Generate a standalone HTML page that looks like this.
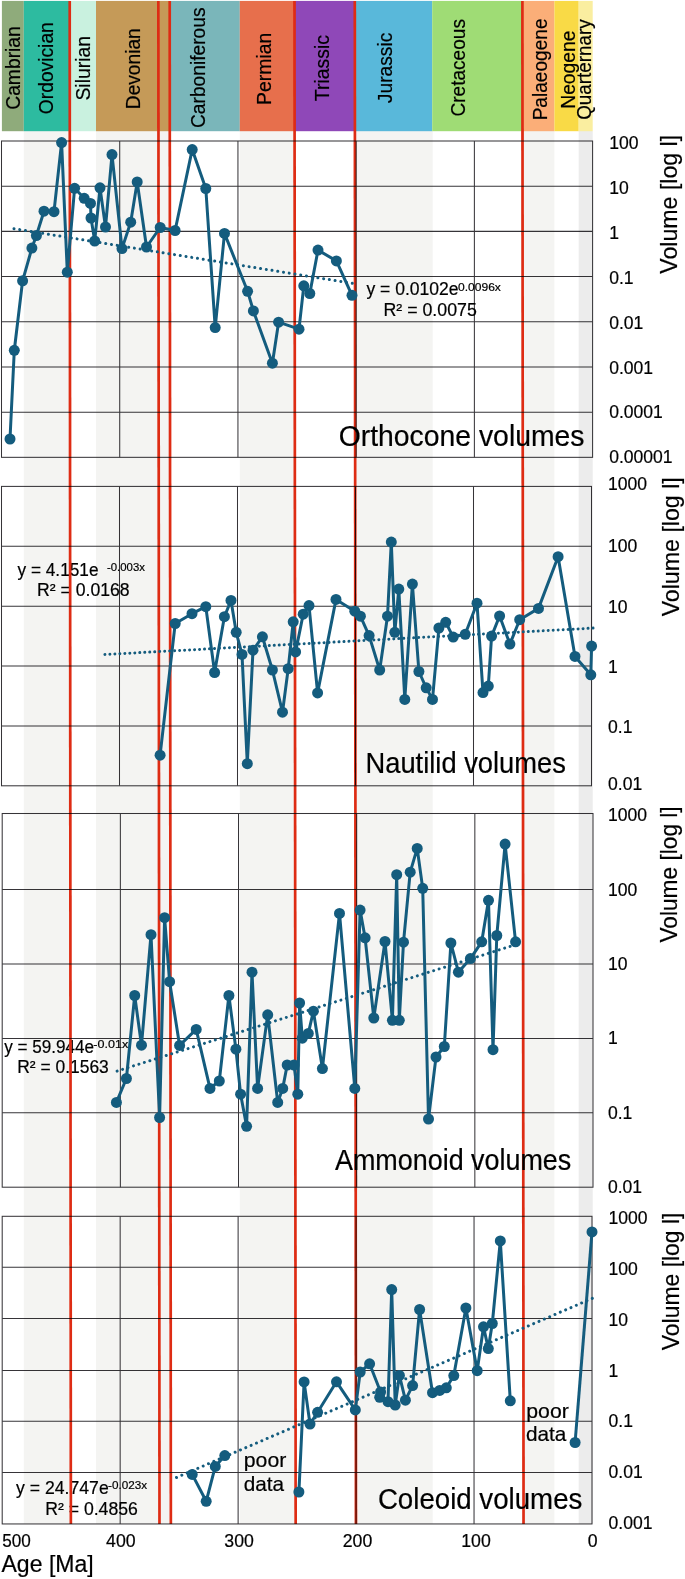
<!DOCTYPE html>
<html lang="en"><head><meta charset="utf-8"><title>Cephalopod volumes through time</title>
<style>html,body{margin:0;padding:0;background:#fff}svg{display:block}text{font-family:"Liberation Sans", Arial, Helvetica, sans-serif;fill:#000;stroke:#000;stroke-width:0.2px}</style></head><body>
<svg width="685" height="1579" viewBox="0 0 685 1579">
<rect width="685" height="1579" fill="#fff"/>
<g>
<rect x="23.8" y="131" width="45.9" height="1392.7" fill="#f4f4f2"/>
<rect x="96.0" y="131" width="73.7" height="1392.7" fill="#f4f4f2"/>
<rect x="239.8" y="131" width="54.7" height="1392.7" fill="#f4f4f2"/>
<rect x="354.8" y="131" width="77.9" height="1392.7" fill="#f4f4f2"/>
<rect x="522.4" y="131" width="32.0" height="1392.7" fill="#f4f4f2"/>
<rect x="578.7" y="131" width="14.0" height="1392.7" fill="#ececec"/>
</g>
<g>
<rect x="1.9" y="0.9" width="21.9" height="130.3" fill="#8fab7b"/>
<rect x="23.8" y="0.9" width="45.9" height="130.3" fill="#2dbba0"/>
<rect x="69.7" y="0.9" width="26.3" height="130.3" fill="#c9f1df"/>
<rect x="96.0" y="0.9" width="73.7" height="130.3" fill="#c59a58"/>
<rect x="169.7" y="0.9" width="70.1" height="130.3" fill="#7ab6ba"/>
<rect x="239.8" y="0.9" width="54.7" height="130.3" fill="#e76f4c"/>
<rect x="294.5" y="0.9" width="60.3" height="130.3" fill="#8f48b8"/>
<rect x="354.8" y="0.9" width="77.4" height="130.3" fill="#59b8da"/>
<rect x="432.2" y="0.9" width="90.2" height="130.3" fill="#9fdc75"/>
<rect x="522.4" y="0.9" width="32.0" height="130.3" fill="#fbae78"/>
<rect x="554.4" y="0.9" width="24.3" height="130.3" fill="#f9da46"/>
<rect x="578.7" y="0.9" width="14.0" height="130.3" fill="#faeea0"/>
</g>
<g>
<text x="366.40" y="295.20" font-size="17.6" textLength="92.20" lengthAdjust="spacingAndGlyphs">y = 0.0102e</text>
<text x="457.98" y="290.60" font-size="11.5" textLength="42.92" lengthAdjust="spacingAndGlyphs">0.0096x</text>
<text x="383.49" y="316.30" font-size="17.6" textLength="93.31" lengthAdjust="spacingAndGlyphs">R² = 0.0075</text>
<text x="17.50" y="575.70" font-size="17.6" textLength="81.00" lengthAdjust="spacingAndGlyphs">y = 4.151e</text>
<text x="107.01" y="571.00" font-size="11.5" textLength="37.90" lengthAdjust="spacingAndGlyphs">-0.003x</text>
<text x="37.00" y="596.30" font-size="17.6" textLength="92.59" lengthAdjust="spacingAndGlyphs">R² = 0.0168</text>
<text x="4.20" y="1052.70" font-size="17.6" textLength="89.88" lengthAdjust="spacingAndGlyphs">y = 59.944e</text>
<text x="93.35" y="1048.00" font-size="11.5" textLength="34.88" lengthAdjust="spacingAndGlyphs">-0.01x</text>
<text x="17.21" y="1073.30" font-size="17.6" textLength="91.62" lengthAdjust="spacingAndGlyphs">R² = 0.1563</text>
<text x="16.10" y="1493.50" font-size="17.6" textLength="92.60" lengthAdjust="spacingAndGlyphs">y = 24.747e</text>
<text x="107.99" y="1489.00" font-size="11.5" textLength="39.02" lengthAdjust="spacingAndGlyphs">-0.023x</text>
<text x="45.20" y="1514.50" font-size="17.6" textLength="92.69" lengthAdjust="spacingAndGlyphs">R² = 0.4856</text>
</g>
<g stroke="#de2c14" stroke-width="2.7">
<line x1="69.70" y1="1" x2="70.85" y2="1523.9"/>
<line x1="158.35" y1="1" x2="159.50" y2="1523.9"/>
<line x1="169.70" y1="1" x2="170.85" y2="1523.9"/>
<line x1="294.50" y1="1" x2="295.65" y2="1523.9"/>
<line x1="354.80" y1="1" x2="355.95" y2="1523.9"/>
<line x1="522.40" y1="1" x2="523.55" y2="1523.9"/>
</g>
<g stroke="#363438" stroke-width="1.03" fill="none" style="mix-blend-mode:multiply">
<rect x="1.50" y="141.00" width="591.10" height="316.33"/>
<line x1="1.50" y1="186.19" x2="592.60" y2="186.19"/>
<line x1="1.50" y1="231.38" x2="592.60" y2="231.38"/>
<line x1="1.50" y1="276.57" x2="592.60" y2="276.57"/>
<line x1="1.50" y1="321.76" x2="592.60" y2="321.76"/>
<line x1="1.50" y1="366.95" x2="592.60" y2="366.95"/>
<line x1="1.50" y1="412.14" x2="592.60" y2="412.14"/>
<line x1="119.72" y1="141.00" x2="119.72" y2="457.33"/>
<line x1="237.94" y1="141.00" x2="237.94" y2="457.33"/>
<line x1="356.16" y1="141.00" x2="356.16" y2="457.33"/>
<line x1="474.38" y1="141.00" x2="474.38" y2="457.33"/>
<rect x="1.50" y="486.40" width="590.00" height="299.40"/>
<line x1="1.50" y1="546.28" x2="591.50" y2="546.28"/>
<line x1="1.50" y1="606.16" x2="591.50" y2="606.16"/>
<line x1="1.50" y1="666.04" x2="591.50" y2="666.04"/>
<line x1="1.50" y1="725.92" x2="591.50" y2="725.92"/>
<line x1="119.50" y1="486.40" x2="119.50" y2="785.80"/>
<line x1="237.50" y1="486.40" x2="237.50" y2="785.80"/>
<line x1="355.50" y1="486.40" x2="355.50" y2="785.80"/>
<line x1="473.50" y1="486.40" x2="473.50" y2="785.80"/>
<rect x="2.20" y="813.50" width="590.80" height="373.70"/>
<line x1="2.20" y1="889.40" x2="593.00" y2="889.40"/>
<line x1="2.20" y1="964.10" x2="593.00" y2="964.10"/>
<line x1="2.20" y1="1038.50" x2="593.00" y2="1038.50"/>
<line x1="2.20" y1="1112.80" x2="593.00" y2="1112.80"/>
<line x1="120.36" y1="813.50" x2="120.36" y2="1187.20"/>
<line x1="238.52" y1="813.50" x2="238.52" y2="1187.20"/>
<line x1="356.68" y1="813.50" x2="356.68" y2="1187.20"/>
<line x1="474.84" y1="813.50" x2="474.84" y2="1187.20"/>
<rect x="2.20" y="1216.30" width="589.80" height="307.65"/>
<line x1="2.20" y1="1267.30" x2="592.00" y2="1267.30"/>
<line x1="2.20" y1="1318.50" x2="592.00" y2="1318.50"/>
<line x1="2.20" y1="1370.45" x2="592.00" y2="1370.45"/>
<line x1="2.20" y1="1421.20" x2="592.00" y2="1421.20"/>
<line x1="2.20" y1="1472.40" x2="592.00" y2="1472.40"/>
<line x1="120.16" y1="1216.30" x2="120.16" y2="1523.95"/>
<line x1="238.12" y1="1216.30" x2="238.12" y2="1523.95"/>
<line x1="356.08" y1="1216.30" x2="356.08" y2="1523.95"/>
<line x1="474.04" y1="1216.30" x2="474.04" y2="1523.95"/>
</g>
<g stroke="#145c7e" stroke-width="3" stroke-linecap="round" fill="none">
<line x1="14.00" y1="228.70" x2="352.50" y2="283.33" stroke-dasharray="0.01 5.7981"/>
<line x1="104.90" y1="654.50" x2="593.20" y2="628.09" stroke-dasharray="0.01 4.9779"/>
<line x1="117.10" y1="1071.10" x2="515.75" y2="944.64" stroke-dasharray="0.01 5.7164"/>
<line x1="176.50" y1="1477.50" x2="592.48" y2="1298.32" stroke-dasharray="0.01 5.7943"/>
</g>
<g>
<polyline fill="none" stroke="#145c7e" stroke-width="3" stroke-linejoin="round" points="10.0,439.0 14.3,350.3 22.6,280.8 31.9,248.1 36.4,235.5 44.0,211.2 54.0,211.7 61.6,142.6 67.3,272.2 74.6,188.3 84.2,198.3 90.5,203.4 91.0,218.0 94.7,241.0 100.0,187.8 105.5,227.0 112.0,154.6 122.0,248.6 130.7,222.2 137.2,182.0 146.5,247.0 160.2,227.5 175.1,230.5 192.2,149.6 205.8,188.5 215.2,327.6 224.5,233.4 247.6,291.3 253.4,310.9 272.4,363.2 278.6,322.2 299.0,329.2 303.8,285.8 309.8,293.5 318.0,250.1 336.4,260.9 352.0,295.3"/>
<circle cx="10.0" cy="439.0" r="5.5" fill="#145c7e"/>
<circle cx="14.3" cy="350.3" r="5.5" fill="#145c7e"/>
<circle cx="22.6" cy="280.8" r="5.5" fill="#145c7e"/>
<circle cx="31.9" cy="248.1" r="5.5" fill="#145c7e"/>
<circle cx="36.4" cy="235.5" r="5.5" fill="#145c7e"/>
<circle cx="44.0" cy="211.2" r="5.5" fill="#145c7e"/>
<circle cx="54.0" cy="211.7" r="5.5" fill="#145c7e"/>
<circle cx="61.6" cy="142.6" r="5.5" fill="#145c7e"/>
<circle cx="67.3" cy="272.2" r="5.5" fill="#145c7e"/>
<circle cx="74.6" cy="188.3" r="5.5" fill="#145c7e"/>
<circle cx="84.2" cy="198.3" r="5.5" fill="#145c7e"/>
<circle cx="90.5" cy="203.4" r="5.5" fill="#145c7e"/>
<circle cx="91.0" cy="218.0" r="5.5" fill="#145c7e"/>
<circle cx="94.7" cy="241.0" r="5.5" fill="#145c7e"/>
<circle cx="100.0" cy="187.8" r="5.5" fill="#145c7e"/>
<circle cx="105.5" cy="227.0" r="5.5" fill="#145c7e"/>
<circle cx="112.0" cy="154.6" r="5.5" fill="#145c7e"/>
<circle cx="122.0" cy="248.6" r="5.5" fill="#145c7e"/>
<circle cx="130.7" cy="222.2" r="5.5" fill="#145c7e"/>
<circle cx="137.2" cy="182.0" r="5.5" fill="#145c7e"/>
<circle cx="146.5" cy="247.0" r="5.5" fill="#145c7e"/>
<circle cx="160.2" cy="227.5" r="5.5" fill="#145c7e"/>
<circle cx="175.1" cy="230.5" r="5.5" fill="#145c7e"/>
<circle cx="192.2" cy="149.6" r="5.5" fill="#145c7e"/>
<circle cx="205.8" cy="188.5" r="5.5" fill="#145c7e"/>
<circle cx="215.2" cy="327.6" r="5.5" fill="#145c7e"/>
<circle cx="224.5" cy="233.4" r="5.5" fill="#145c7e"/>
<circle cx="247.6" cy="291.3" r="5.5" fill="#145c7e"/>
<circle cx="253.4" cy="310.9" r="5.5" fill="#145c7e"/>
<circle cx="272.4" cy="363.2" r="5.5" fill="#145c7e"/>
<circle cx="278.6" cy="322.2" r="5.5" fill="#145c7e"/>
<circle cx="299.0" cy="329.2" r="5.5" fill="#145c7e"/>
<circle cx="303.8" cy="285.8" r="5.5" fill="#145c7e"/>
<circle cx="309.8" cy="293.5" r="5.5" fill="#145c7e"/>
<circle cx="318.0" cy="250.1" r="5.5" fill="#145c7e"/>
<circle cx="336.4" cy="260.9" r="5.5" fill="#145c7e"/>
<circle cx="352.0" cy="295.3" r="5.5" fill="#145c7e"/>
</g>
<g>
<polyline fill="none" stroke="#145c7e" stroke-width="3" stroke-linejoin="round" points="160.1,755.2 175.2,623.5 192.0,613.7 205.8,606.7 214.6,672.5 224.4,616.7 231.0,600.4 236.2,632.3 242.0,654.4 247.3,763.7 253.0,650.2 262.4,636.8 272.4,670.0 282.5,712.2 288.2,668.7 293.2,621.8 295.6,651.9 303.2,614.2 309.0,605.6 317.6,692.9 336.0,599.4 354.8,611.2 360.4,616.2 369.1,635.6 379.7,670.0 387.5,616.2 391.3,542.1 394.8,632.3 398.8,589.1 404.8,699.4 412.4,584.1 418.9,671.5 426.2,687.8 432.5,699.4 438.9,628.0 445.7,622.3 453.2,637.1 465.2,634.3 477.0,603.2 483.0,692.6 488.3,686.1 491.6,636.1 499.6,616.0 509.9,644.1 519.7,619.7 538.5,608.4 558.1,556.7 575.0,656.4 590.8,674.8 591.6,646.1"/>
<circle cx="160.1" cy="755.2" r="5.5" fill="#145c7e"/>
<circle cx="175.2" cy="623.5" r="5.5" fill="#145c7e"/>
<circle cx="192.0" cy="613.7" r="5.5" fill="#145c7e"/>
<circle cx="205.8" cy="606.7" r="5.5" fill="#145c7e"/>
<circle cx="214.6" cy="672.5" r="5.5" fill="#145c7e"/>
<circle cx="224.4" cy="616.7" r="5.5" fill="#145c7e"/>
<circle cx="231.0" cy="600.4" r="5.5" fill="#145c7e"/>
<circle cx="236.2" cy="632.3" r="5.5" fill="#145c7e"/>
<circle cx="242.0" cy="654.4" r="5.5" fill="#145c7e"/>
<circle cx="247.3" cy="763.7" r="5.5" fill="#145c7e"/>
<circle cx="253.0" cy="650.2" r="5.5" fill="#145c7e"/>
<circle cx="262.4" cy="636.8" r="5.5" fill="#145c7e"/>
<circle cx="272.4" cy="670.0" r="5.5" fill="#145c7e"/>
<circle cx="282.5" cy="712.2" r="5.5" fill="#145c7e"/>
<circle cx="288.2" cy="668.7" r="5.5" fill="#145c7e"/>
<circle cx="293.2" cy="621.8" r="5.5" fill="#145c7e"/>
<circle cx="295.6" cy="651.9" r="5.5" fill="#145c7e"/>
<circle cx="303.2" cy="614.2" r="5.5" fill="#145c7e"/>
<circle cx="309.0" cy="605.6" r="5.5" fill="#145c7e"/>
<circle cx="317.6" cy="692.9" r="5.5" fill="#145c7e"/>
<circle cx="336.0" cy="599.4" r="5.5" fill="#145c7e"/>
<circle cx="354.8" cy="611.2" r="5.5" fill="#145c7e"/>
<circle cx="360.4" cy="616.2" r="5.5" fill="#145c7e"/>
<circle cx="369.1" cy="635.6" r="5.5" fill="#145c7e"/>
<circle cx="379.7" cy="670.0" r="5.5" fill="#145c7e"/>
<circle cx="387.5" cy="616.2" r="5.5" fill="#145c7e"/>
<circle cx="391.3" cy="542.1" r="5.5" fill="#145c7e"/>
<circle cx="394.8" cy="632.3" r="5.5" fill="#145c7e"/>
<circle cx="398.8" cy="589.1" r="5.5" fill="#145c7e"/>
<circle cx="404.8" cy="699.4" r="5.5" fill="#145c7e"/>
<circle cx="412.4" cy="584.1" r="5.5" fill="#145c7e"/>
<circle cx="418.9" cy="671.5" r="5.5" fill="#145c7e"/>
<circle cx="426.2" cy="687.8" r="5.5" fill="#145c7e"/>
<circle cx="432.5" cy="699.4" r="5.5" fill="#145c7e"/>
<circle cx="438.9" cy="628.0" r="5.5" fill="#145c7e"/>
<circle cx="445.7" cy="622.3" r="5.5" fill="#145c7e"/>
<circle cx="453.2" cy="637.1" r="5.5" fill="#145c7e"/>
<circle cx="465.2" cy="634.3" r="5.5" fill="#145c7e"/>
<circle cx="477.0" cy="603.2" r="5.5" fill="#145c7e"/>
<circle cx="483.0" cy="692.6" r="5.5" fill="#145c7e"/>
<circle cx="488.3" cy="686.1" r="5.5" fill="#145c7e"/>
<circle cx="491.6" cy="636.1" r="5.5" fill="#145c7e"/>
<circle cx="499.6" cy="616.0" r="5.5" fill="#145c7e"/>
<circle cx="509.9" cy="644.1" r="5.5" fill="#145c7e"/>
<circle cx="519.7" cy="619.7" r="5.5" fill="#145c7e"/>
<circle cx="538.5" cy="608.4" r="5.5" fill="#145c7e"/>
<circle cx="558.1" cy="556.7" r="5.5" fill="#145c7e"/>
<circle cx="575.0" cy="656.4" r="5.5" fill="#145c7e"/>
<circle cx="590.8" cy="674.8" r="5.5" fill="#145c7e"/>
<circle cx="591.6" cy="646.1" r="5.5" fill="#145c7e"/>
</g>
<g>
<polyline fill="none" stroke="#145c7e" stroke-width="3" stroke-linejoin="round" points="116.4,1102.4 126.4,1078.5 134.7,995.5 141.5,1045.2 151.0,934.7 159.6,1117.5 164.6,917.7 169.6,981.7 179.6,1045.4 196.2,1029.4 210.0,1088.4 219.3,1081.0 228.9,995.5 235.9,1049.2 240.6,1094.2 246.6,1126.3 252.0,972.2 257.6,1088.4 267.7,1014.8 277.7,1102.4 282.7,1088.4 287.2,1065.0 294.0,1065.0 297.8,1094.2 299.6,1003.0 302.3,1038.2 308.3,1033.4 313.4,1011.2 322.4,1068.6 339.5,913.4 354.8,1088.4 360.1,910.1 365.1,937.8 373.8,1018.0 385.0,941.5 392.4,1020.3 396.7,874.7 399.3,1020.3 403.5,942.2 410.2,872.2 417.2,848.4 422.7,888.3 428.5,1119.0 436.0,1057.0 444.3,1046.5 450.9,943.0 458.4,972.2 470.4,958.6 481.7,941.8 488.5,900.3 493.0,1049.7 496.8,935.5 505.1,844.1 515.6,941.8"/>
<circle cx="116.4" cy="1102.4" r="5.5" fill="#145c7e"/>
<circle cx="126.4" cy="1078.5" r="5.5" fill="#145c7e"/>
<circle cx="134.7" cy="995.5" r="5.5" fill="#145c7e"/>
<circle cx="141.5" cy="1045.2" r="5.5" fill="#145c7e"/>
<circle cx="151.0" cy="934.7" r="5.5" fill="#145c7e"/>
<circle cx="159.6" cy="1117.5" r="5.5" fill="#145c7e"/>
<circle cx="164.6" cy="917.7" r="5.5" fill="#145c7e"/>
<circle cx="169.6" cy="981.7" r="5.5" fill="#145c7e"/>
<circle cx="179.6" cy="1045.4" r="5.5" fill="#145c7e"/>
<circle cx="196.2" cy="1029.4" r="5.5" fill="#145c7e"/>
<circle cx="210.0" cy="1088.4" r="5.5" fill="#145c7e"/>
<circle cx="219.3" cy="1081.0" r="5.5" fill="#145c7e"/>
<circle cx="228.9" cy="995.5" r="5.5" fill="#145c7e"/>
<circle cx="235.9" cy="1049.2" r="5.5" fill="#145c7e"/>
<circle cx="240.6" cy="1094.2" r="5.5" fill="#145c7e"/>
<circle cx="246.6" cy="1126.3" r="5.5" fill="#145c7e"/>
<circle cx="252.0" cy="972.2" r="5.5" fill="#145c7e"/>
<circle cx="257.6" cy="1088.4" r="5.5" fill="#145c7e"/>
<circle cx="267.7" cy="1014.8" r="5.5" fill="#145c7e"/>
<circle cx="277.7" cy="1102.4" r="5.5" fill="#145c7e"/>
<circle cx="282.7" cy="1088.4" r="5.5" fill="#145c7e"/>
<circle cx="287.2" cy="1065.0" r="5.5" fill="#145c7e"/>
<circle cx="294.0" cy="1065.0" r="5.5" fill="#145c7e"/>
<circle cx="297.8" cy="1094.2" r="5.5" fill="#145c7e"/>
<circle cx="299.6" cy="1003.0" r="5.5" fill="#145c7e"/>
<circle cx="302.3" cy="1038.2" r="5.5" fill="#145c7e"/>
<circle cx="308.3" cy="1033.4" r="5.5" fill="#145c7e"/>
<circle cx="313.4" cy="1011.2" r="5.5" fill="#145c7e"/>
<circle cx="322.4" cy="1068.6" r="5.5" fill="#145c7e"/>
<circle cx="339.5" cy="913.4" r="5.5" fill="#145c7e"/>
<circle cx="354.8" cy="1088.4" r="5.5" fill="#145c7e"/>
<circle cx="360.1" cy="910.1" r="5.5" fill="#145c7e"/>
<circle cx="365.1" cy="937.8" r="5.5" fill="#145c7e"/>
<circle cx="373.8" cy="1018.0" r="5.5" fill="#145c7e"/>
<circle cx="385.0" cy="941.5" r="5.5" fill="#145c7e"/>
<circle cx="392.4" cy="1020.3" r="5.5" fill="#145c7e"/>
<circle cx="396.7" cy="874.7" r="5.5" fill="#145c7e"/>
<circle cx="399.3" cy="1020.3" r="5.5" fill="#145c7e"/>
<circle cx="403.5" cy="942.2" r="5.5" fill="#145c7e"/>
<circle cx="410.2" cy="872.2" r="5.5" fill="#145c7e"/>
<circle cx="417.2" cy="848.4" r="5.5" fill="#145c7e"/>
<circle cx="422.7" cy="888.3" r="5.5" fill="#145c7e"/>
<circle cx="428.5" cy="1119.0" r="5.5" fill="#145c7e"/>
<circle cx="436.0" cy="1057.0" r="5.5" fill="#145c7e"/>
<circle cx="444.3" cy="1046.5" r="5.5" fill="#145c7e"/>
<circle cx="450.9" cy="943.0" r="5.5" fill="#145c7e"/>
<circle cx="458.4" cy="972.2" r="5.5" fill="#145c7e"/>
<circle cx="470.4" cy="958.6" r="5.5" fill="#145c7e"/>
<circle cx="481.7" cy="941.8" r="5.5" fill="#145c7e"/>
<circle cx="488.5" cy="900.3" r="5.5" fill="#145c7e"/>
<circle cx="493.0" cy="1049.7" r="5.5" fill="#145c7e"/>
<circle cx="496.8" cy="935.5" r="5.5" fill="#145c7e"/>
<circle cx="505.1" cy="844.1" r="5.5" fill="#145c7e"/>
<circle cx="515.6" cy="941.8" r="5.5" fill="#145c7e"/>
</g>
<g>
<polyline fill="none" stroke="#145c7e" stroke-width="3" stroke-linejoin="round" points="192.2,1474.4 206.2,1501.3 215.3,1466.4 224.8,1455.6"/>
<circle cx="192.2" cy="1474.4" r="5.5" fill="#145c7e"/>
<circle cx="206.2" cy="1501.3" r="5.5" fill="#145c7e"/>
<circle cx="215.3" cy="1466.4" r="5.5" fill="#145c7e"/>
<circle cx="224.8" cy="1455.6" r="5.5" fill="#145c7e"/>
</g>
<g>
<polyline fill="none" stroke="#145c7e" stroke-width="3" stroke-linejoin="round" points="298.9,1492.0 304.1,1381.9 310.0,1424.0 317.6,1412.3 336.5,1381.8 355.3,1409.9 360.2,1372.0 369.6,1363.8 380.6,1392.0 379.7,1397.3 388.0,1401.7 391.7,1289.6 395.2,1405.0 399.4,1375.4 405.4,1400.2 412.6,1385.6 419.6,1309.5 432.5,1392.7 439.7,1390.4 446.3,1387.8 453.8,1375.6 465.9,1308.0 477.2,1370.7 483.5,1326.8 488.3,1348.6 492.3,1323.5 500.3,1240.9 510.3,1400.8"/>
<circle cx="298.9" cy="1492.0" r="5.5" fill="#145c7e"/>
<circle cx="304.1" cy="1381.9" r="5.5" fill="#145c7e"/>
<circle cx="310.0" cy="1424.0" r="5.5" fill="#145c7e"/>
<circle cx="317.6" cy="1412.3" r="5.5" fill="#145c7e"/>
<circle cx="336.5" cy="1381.8" r="5.5" fill="#145c7e"/>
<circle cx="355.3" cy="1409.9" r="5.5" fill="#145c7e"/>
<circle cx="360.2" cy="1372.0" r="5.5" fill="#145c7e"/>
<circle cx="369.6" cy="1363.8" r="5.5" fill="#145c7e"/>
<circle cx="380.6" cy="1392.0" r="5.5" fill="#145c7e"/>
<circle cx="379.7" cy="1397.3" r="5.5" fill="#145c7e"/>
<circle cx="388.0" cy="1401.7" r="5.5" fill="#145c7e"/>
<circle cx="391.7" cy="1289.6" r="5.5" fill="#145c7e"/>
<circle cx="395.2" cy="1405.0" r="5.5" fill="#145c7e"/>
<circle cx="399.4" cy="1375.4" r="5.5" fill="#145c7e"/>
<circle cx="405.4" cy="1400.2" r="5.5" fill="#145c7e"/>
<circle cx="412.6" cy="1385.6" r="5.5" fill="#145c7e"/>
<circle cx="419.6" cy="1309.5" r="5.5" fill="#145c7e"/>
<circle cx="432.5" cy="1392.7" r="5.5" fill="#145c7e"/>
<circle cx="439.7" cy="1390.4" r="5.5" fill="#145c7e"/>
<circle cx="446.3" cy="1387.8" r="5.5" fill="#145c7e"/>
<circle cx="453.8" cy="1375.6" r="5.5" fill="#145c7e"/>
<circle cx="465.9" cy="1308.0" r="5.5" fill="#145c7e"/>
<circle cx="477.2" cy="1370.7" r="5.5" fill="#145c7e"/>
<circle cx="483.5" cy="1326.8" r="5.5" fill="#145c7e"/>
<circle cx="488.3" cy="1348.6" r="5.5" fill="#145c7e"/>
<circle cx="492.3" cy="1323.5" r="5.5" fill="#145c7e"/>
<circle cx="500.3" cy="1240.9" r="5.5" fill="#145c7e"/>
<circle cx="510.3" cy="1400.8" r="5.5" fill="#145c7e"/>
</g>
<g>
<polyline fill="none" stroke="#145c7e" stroke-width="3" stroke-linejoin="round" points="575.1,1442.5 592.0,1231.9"/>
<circle cx="575.1" cy="1442.5" r="5.5" fill="#145c7e"/>
<circle cx="592.0" cy="1231.9" r="5.5" fill="#145c7e"/>
</g>
<g>
<text transform="translate(19.90 109.78) rotate(-90)" font-size="19.6" textLength="83.57" lengthAdjust="spacingAndGlyphs">Cambrian</text>
<text transform="translate(53.40 114.18) rotate(-90)" font-size="19.6" textLength="91.96" lengthAdjust="spacingAndGlyphs">Ordovician</text>
<text transform="translate(90.00 100.59) rotate(-90)" font-size="19.6" textLength="64.74" lengthAdjust="spacingAndGlyphs">Silurian</text>
<text transform="translate(139.90 109.16) rotate(-90)" font-size="19.6" textLength="80.83" lengthAdjust="spacingAndGlyphs">Devonian</text>
<text transform="translate(204.50 127.98) rotate(-90)" font-size="19.6" textLength="120.49" lengthAdjust="spacingAndGlyphs">Carboniferous</text>
<text transform="translate(270.60 104.88) rotate(-90)" font-size="19.6" textLength="72.19" lengthAdjust="spacingAndGlyphs">Permian</text>
<text transform="translate(328.70 101.20) rotate(-90)" font-size="19.6" textLength="66.21" lengthAdjust="spacingAndGlyphs">Triassic</text>
<text transform="translate(391.50 103.15) rotate(-90)" font-size="19.6" textLength="70.46" lengthAdjust="spacingAndGlyphs">Jurassic</text>
<text transform="translate(465.10 116.57) rotate(-90)" font-size="19.6" textLength="97.56" lengthAdjust="spacingAndGlyphs">Cretaceous</text>
<text transform="translate(546.50 120.36) rotate(-90)" font-size="19.6" textLength="101.90" lengthAdjust="spacingAndGlyphs">Palaeogene</text>
<text transform="translate(575.40 108.78) rotate(-90)" font-size="19.6" textLength="78.26" lengthAdjust="spacingAndGlyphs">Neogene</text>
<text transform="translate(591.40 119.86) rotate(-90)" font-size="19.6" textLength="100.61" lengthAdjust="spacingAndGlyphs">Quarternary</text>
<text x="338.65" y="446.40" font-size="29.4" textLength="245.90" lengthAdjust="spacingAndGlyphs">Orthocone volumes</text>
<text x="365.48" y="772.80" font-size="29.4" textLength="200.47" lengthAdjust="spacingAndGlyphs">Nautilid volumes</text>
<text x="335.00" y="1169.60" font-size="29.4" textLength="236.30" lengthAdjust="spacingAndGlyphs">Ammonoid volumes</text>
<text x="377.89" y="1509.00" font-size="29.4" textLength="204.48" lengthAdjust="spacingAndGlyphs">Coleoid volumes</text>
<text x="243.80" y="1467.40" font-size="20.4" textLength="42.53" lengthAdjust="spacingAndGlyphs">poor</text>
<text x="243.74" y="1490.70" font-size="20.4" textLength="40.40" lengthAdjust="spacingAndGlyphs">data</text>
<text x="526.30" y="1418.20" font-size="20.4" textLength="42.53" lengthAdjust="spacingAndGlyphs">poor</text>
<text x="525.94" y="1440.80" font-size="20.4" textLength="40.40" lengthAdjust="spacingAndGlyphs">data</text>
<text transform="translate(677.00 273.64) rotate(-90)" font-size="23.7" textLength="138.82" lengthAdjust="spacingAndGlyphs">Volume [log l]</text>
<text transform="translate(679.30 616.34) rotate(-90)" font-size="23.7" textLength="139.13" lengthAdjust="spacingAndGlyphs">Volume [log l]</text>
<text transform="translate(677.00 942.54) rotate(-90)" font-size="23.7" textLength="136.19" lengthAdjust="spacingAndGlyphs">Volume [log l]</text>
<text transform="translate(678.80 1350.24) rotate(-90)" font-size="23.7" textLength="137.71" lengthAdjust="spacingAndGlyphs">Volume [log l]</text>
<text x="1.50" y="1571.80" font-size="23.7" textLength="92.25" lengthAdjust="spacingAndGlyphs">Age [Ma]</text>
<text x="2.17" y="1547.40" font-size="17.7" textLength="28.57" lengthAdjust="spacingAndGlyphs">500</text>
<text x="106.10" y="1547.40" font-size="17.7" textLength="29.57" lengthAdjust="spacingAndGlyphs">400</text>
</g>
<g font-size="18.0">
<text x="609.20" y="149.0" textLength="29.30" lengthAdjust="spacingAndGlyphs">100</text>
<text x="609.20" y="193.9" textLength="19.53" lengthAdjust="spacingAndGlyphs">10</text>
<text x="609.20" y="238.8" textLength="9.77" lengthAdjust="spacingAndGlyphs">1</text>
<text x="609.20" y="283.7" textLength="24.41" lengthAdjust="spacingAndGlyphs">0.1</text>
<text x="609.20" y="328.6" textLength="34.17" lengthAdjust="spacingAndGlyphs">0.01</text>
<text x="609.20" y="373.5" textLength="43.92" lengthAdjust="spacingAndGlyphs">0.001</text>
<text x="609.20" y="418.4" textLength="53.69" lengthAdjust="spacingAndGlyphs">0.0001</text>
<text x="609.20" y="463.3" textLength="63.45" lengthAdjust="spacingAndGlyphs">0.00001</text>
<text x="608.00" y="490.4" textLength="39.05" lengthAdjust="spacingAndGlyphs">1000</text>
<text x="608.00" y="552.3" textLength="29.30" lengthAdjust="spacingAndGlyphs">100</text>
<text x="608.00" y="612.8" textLength="19.53" lengthAdjust="spacingAndGlyphs">10</text>
<text x="608.00" y="672.6" textLength="9.77" lengthAdjust="spacingAndGlyphs">1</text>
<text x="608.00" y="732.8" textLength="24.41" lengthAdjust="spacingAndGlyphs">0.1</text>
<text x="608.00" y="790.4" textLength="34.17" lengthAdjust="spacingAndGlyphs">0.01</text>
<text x="607.90" y="820.9" textLength="39.05" lengthAdjust="spacingAndGlyphs">1000</text>
<text x="607.90" y="895.6" textLength="29.30" lengthAdjust="spacingAndGlyphs">100</text>
<text x="607.90" y="969.8" textLength="19.53" lengthAdjust="spacingAndGlyphs">10</text>
<text x="607.90" y="1043.6" textLength="9.77" lengthAdjust="spacingAndGlyphs">1</text>
<text x="607.90" y="1119.0" textLength="24.41" lengthAdjust="spacingAndGlyphs">0.1</text>
<text x="607.90" y="1193.0" textLength="34.17" lengthAdjust="spacingAndGlyphs">0.01</text>
<text x="608.50" y="1224.1" textLength="39.05" lengthAdjust="spacingAndGlyphs">1000</text>
<text x="608.50" y="1275.1" textLength="29.30" lengthAdjust="spacingAndGlyphs">100</text>
<text x="608.50" y="1325.9" textLength="19.53" lengthAdjust="spacingAndGlyphs">10</text>
<text x="608.50" y="1376.7" textLength="9.77" lengthAdjust="spacingAndGlyphs">1</text>
<text x="608.50" y="1427.3" textLength="24.41" lengthAdjust="spacingAndGlyphs">0.1</text>
<text x="608.50" y="1478.1" textLength="34.17" lengthAdjust="spacingAndGlyphs">0.01</text>
<text x="608.50" y="1529.2" textLength="43.92" lengthAdjust="spacingAndGlyphs">0.001</text>
</g>
<g font-size="17.7" text-anchor="middle">
<text x="239.1" y="1547.4">300</text>
<text x="357.5" y="1547.4">200</text>
<text x="476.0" y="1547.4">100</text>
<text x="592.7" y="1547.4">0</text>
</g>
</svg></body></html>
